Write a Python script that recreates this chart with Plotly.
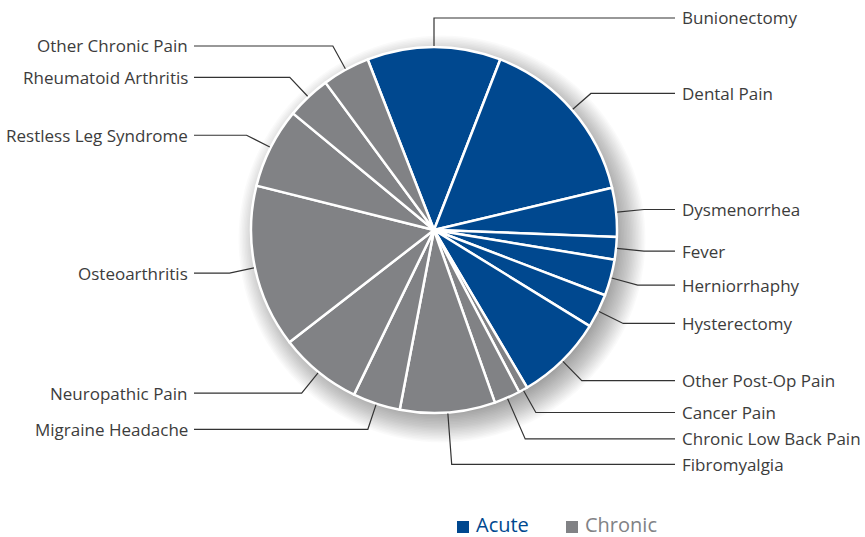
import math
import plotly.graph_objects as go

# ---- data ----
labels = ["Bunionectomy", "Dental Pain", "Dysmenorrhea", "Fever", "Herniorrhaphy",
          "Hysterectomy", "Other Post-Op Pain", "Cancer Pain", "Chronic Low Back Pain",
          "Fibromyalgia", "Migraine Headache", "Neuropathic Pain", "Osteoarthritis",
          "Restless Leg Syndrome", "Rheumatoid Arthritis", "Other Chronic Pain"]
values = [11.8, 15.4, 4.3, 2.0, 3.2, 3.0, 7.7, 0.8, 2.3, 8.4, 4.2, 7.3, 14.4, 7.1, 3.9, 4.2]
groups = ["Acute"] * 7 + ["Chronic"] * 9
legend_items = ["Acute", "Chronic"]

# ---- style ----
W, H = 865, 537
BLUE = "#00488f"
GRAY = "#818285"
TEXT = "#3c3c3c"
LINE = "#333333"
FONT = "Open Sans"
group_color = {"Acute": BLUE, "Chronic": GRAY}
# leader length beyond the pie edge (style)
leader_len = [29, 25, 28, 28, 28, 28, 28, 26, 45, 52, 27, 27, 26, 27, 27, 27]

CX, CY, R = 434, 230, 183
RIGHT_END, LEFT_END = 675, 194


def px(x):
    return x / W


def py(y):
    return 1 - y / H


total = sum(values)
rotation = -values[0] / total * 180.0

fig = go.Figure()
fig.add_trace(go.Pie(
    labels=labels, values=values, sort=False, direction="clockwise",
    rotation=rotation, textinfo="none", hoverinfo="label+percent",
    marker=dict(colors=[group_color[g] for g in groups],
                line=dict(color="white", width=2.5)),
    domain=dict(x=[px(CX - R), px(CX + R)], y=[py(CY + R), py(CY - R)]),
    showlegend=False,
))

shapes = []
# soft drop shadow behind pie
n_sh = 24
for i in range(n_sh):
    rr = R - 14 + i * 1.5
    sx, sy = CX + 8, CY + 9
    shapes.append(dict(type="circle", xref="paper", yref="paper", layer="below",
                       x0=px(sx - rr), x1=px(sx + rr), y0=py(sy + rr), y1=py(sy - rr),
                       fillcolor="rgba(0,0,0,0.018)", line=dict(width=0)))

annotations = []
cum = 0.0
for lab, v, L in zip(labels, values, leader_len):
    mid = rotation + (cum + v / 2) / total * 360.0
    cum += v
    a = math.radians(mid)
    s, c = math.sin(a), math.cos(a)
    x0, y0 = CX + (R + 1) * s, CY - (R + 1) * c
    x1, y1 = CX + (R + L) * s, CY - (R + L) * c
    right = s >= -1e-9
    xend = RIGHT_END if right else LEFT_END
    path = f"M {px(x0)},{py(y0)} L {px(x1)},{py(y1)} L {px(xend)},{py(y1)}"
    shapes.append(dict(type="path", xref="paper", yref="paper", path=path,
                       line=dict(color=LINE, width=1.2), layer="above"))
    annotations.append(dict(
        x=px(xend + 6 if right else xend - 5), y=py(y1), xref="paper", yref="paper",
        text=lab, showarrow=False, xanchor="left" if right else "right", yanchor="middle",
        font=dict(family=FONT, size=17, color=TEXT), borderpad=0))

# legend
leg_sq_x = [457, 566]
for name, sx in zip(legend_items, leg_sq_x):
    shapes.append(dict(type="rect", xref="paper", yref="paper",
                       x0=px(sx), x1=px(sx + 12), y0=py(533), y1=py(521),
                       fillcolor=group_color[name], line=dict(width=0)))
    annotations.append(dict(x=px(sx + 18), y=py(524.5), xref="paper", yref="paper",
                            text=name, showarrow=False, xanchor="left", yanchor="middle",
                            font=dict(family=FONT, size=20, color=group_color[name]),
                            borderpad=0))

fig.update_layout(width=W, height=H, margin=dict(l=0, r=0, t=0, b=0),
                  paper_bgcolor="white", plot_bgcolor="white",
                  shapes=shapes, annotations=annotations, showlegend=False)
fig.write_html("out.html")
